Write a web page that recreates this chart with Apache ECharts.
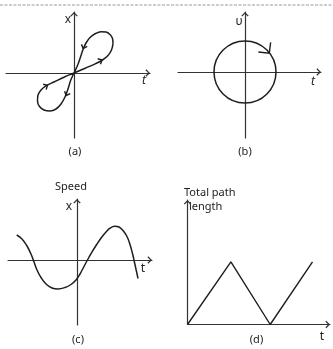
<!DOCTYPE html>
<html>
<head>
<meta charset="utf-8">
<script src="https://cdn.jsdelivr.net/npm/echarts@6/dist/echarts.min.js"></script>
<style>
  html, body { margin: 0; padding: 0; background: #fff; }
  #chart { width: 333px; height: 349px; }
</style>
</head>
<body>
<div id="chart"></div>
<script>
// (a) figure-eight traced through the origin: [t, x]
const loopA = [
  [39, 29.4], [38.5, 34.5], [36, 38.5], [32, 41], [27, 41.3], [21.5, 39.5],
  [16, 35.5], [12, 30], [9, 23.5], [6.5, 16], [3.5, 7.5], [0, 0],
  [-3.3, -7.3], [-6, -16], [-9, -24], [-13, -31], [-18, -36], [-24, -38],
  [-30, -37], [-34.5, -33.5], [-36.5, -28], [-36, -22], [-33, -17],
  [-28, -12.8], [-20, -9], [-10, -4.2], [0, 0], [11.7, 5], [21.7, 9.4],
  [28.5, 13], [34, 17.5], [37.5, 23], [39, 29.4]
];
// direction marks on the loop: [t, x, heading in degrees]
const loopArrowsA = [
  [9.2, 24.5, -110], [28, 13, 27], [-7.8, -22.5, -112], [-26.5, -12.3, 30]
];

// (b) circle in the υ–t plane: [centre t, centre υ, radius]
const circleB = [[0, 0, 31]];
// clockwise mark on the circle: [t, υ, heading in degrees]
const circleArrowB = [[24.3, 18.7, -52]];

// (c) speed curve: [t, x]
const waveC = [
  [-60.3, 25], [-55, 21], [-50, 14], [-46, 6], [-43, -2], [-40, -10],
  [-36, -17.5], [-31, -24], [-25, -28], [-19, -29], [-12, -27.5],
  [-6, -24.5], [-1, -20], [3, -14], [7, -6.5], [11, 1], [15.5, 8.8],
  [20, 16], [24.5, 22.5], [29, 28], [33, 31.8], [37.5, 33.8], [42, 33],
  [46, 29.5], [50, 23.5], [53, 15.5], [55.5, 6.5], [57.5, -2.5],
  [59.5, -11.5], [61, -18.5]
];

// (d) total path length: [t, length]
const pathD = [[0, 0], [43.4, 62.6], [82.7, 0], [125, 62.6]];

const INK = '#1e1e1e';
const AXIS = '#333';
const FONT = '"Noto Sans", "Open Sans", sans-serif';
// open chevron arrow head used at the end of every axis
const CHEVRON = 'path://M0,7 L7,0 L14,7 L12.2,8.6 L7,3.4 L1.8,8.6 Z';

function axis(gridIndex, min, max) {
  return {
    type: 'value', gridIndex, min, max,
    axisLine: {
      show: true, onZero: true,
      lineStyle: { color: AXIS, width: 1.2 },
      symbol: ['none', CHEVRON],
      symbolSize: [7.5, 4.6],
      symbolOffset: [0, -2.3]
    },
    axisTick: { show: false },
    axisLabel: { show: false },
    splitLine: { show: false }
  };
}

// arrow head drawn at a data point, pointing along the given heading
function arrowHead(len, half) {
  return function (params, api) {
    const p = api.coord([api.value(0), api.value(1)]);
    const a = api.value(2) * Math.PI / 180;
    const bx = -Math.cos(a), by = Math.sin(a); // back direction in screen space
    const rot = (s) => [
      p[0] + len * (bx * Math.cos(s) - by * Math.sin(s)),
      p[1] + len * (bx * Math.sin(s) + by * Math.cos(s))
    ];
    return {
      type: 'polyline',
      shape: { points: [rot(half), p, rot(-half)] },
      style: { stroke: INK, lineWidth: 1.4, fill: null, lineJoin: 'miter' }
    };
  };
}

function text(x, y, str, opts) {
  return {
    type: 'text', x, y,
    style: Object.assign({
      text: str, fill: '#222', font: '11px ' + FONT,
      align: 'center', verticalAlign: 'middle'
    }, opts || {})
  };
}

function curve(index, data, smooth, width) {
  return {
    type: 'line', xAxisIndex: index, yAxisIndex: index, data,
    smooth, symbol: 'none', clip: false,
    lineStyle: { color: INK, width }
  };
}

const chart = echarts.init(document.getElementById('chart'), null, { renderer: 'canvas' });

chart.setOption({
  animation: false,
  backgroundColor: '#fff',
  grid: [
    { left: 6, top: 12, width: 144, height: 126 },
    { left: 178, top: 12, width: 143, height: 126 },
    { left: 8, top: 199, width: 144, height: 126 },
    { left: 187.5, top: 200, width: 142.5, height: 124.5 }
  ],
  xAxis: [axis(0, -68, 76), axis(1, -67, 76), axis(2, -69, 75), axis(3, 0, 142.5)],
  yAxis: [axis(0, -65, 61), axis(1, -66, 60), axis(2, -65, 61), axis(3, 0, 124.5)],
  series: [
    curve(0, loopA, 0.4, 1.5),
    {
      type: 'custom', xAxisIndex: 0, yAxisIndex: 0, data: loopArrowsA,
      renderItem: arrowHead(4.5, 0.75)
    },
    {
      type: 'custom', xAxisIndex: 1, yAxisIndex: 1, data: circleB,
      renderItem: function (params, api) {
        const c = api.coord([api.value(0), api.value(1)]);
        const r = api.size([api.value(2), 0])[0];
        return {
          type: 'circle',
          shape: { cx: c[0], cy: c[1], r },
          style: { stroke: INK, lineWidth: 1.5, fill: null }
        };
      }
    },
    {
      type: 'custom', xAxisIndex: 1, yAxisIndex: 1, data: circleArrowB,
      renderItem: arrowHead(11, Math.PI / 4)
    },
    curve(2, waveC, 0.4, 1.5),
    curve(3, pathD, false, 1.4)
  ],
  graphic: [
    {
      type: 'line',
      shape: { x1: 0, y1: 5, x2: 333, y2: 5 },
      style: { stroke: '#9a9a9a', lineWidth: 1, lineDash: [3, 1.5] }
    },
    // (a)
    text(68, 20, 'x', { font: '12px ' + FONT }),
    text(144, 81, 't', { font: 'italic 12px ' + FONT }),
    text(75, 152, '(a)'),
    // (b)
    text(239, 22, 'υ', { font: '12px ' + FONT }),
    text(313, 82, 't', { font: 'italic 12px ' + FONT }),
    text(245, 152, '(b)'),
    // (c)
    text(71, 187, 'Speed'),
    text(69, 207, 'x', { font: '12px ' + FONT }),
    text(143, 269, 't', { font: '12px ' + FONT }),
    text(78, 340, '(c)'),
    // (d)
    text(184, 193, 'Total path', { align: 'left' }),
    text(189, 207, 'length', { align: 'left' }),
    text(322, 337, 't', { font: '12px ' + FONT }),
    text(256.5, 340, '(d)')
  ]
});
</script>
</body>
</html>
